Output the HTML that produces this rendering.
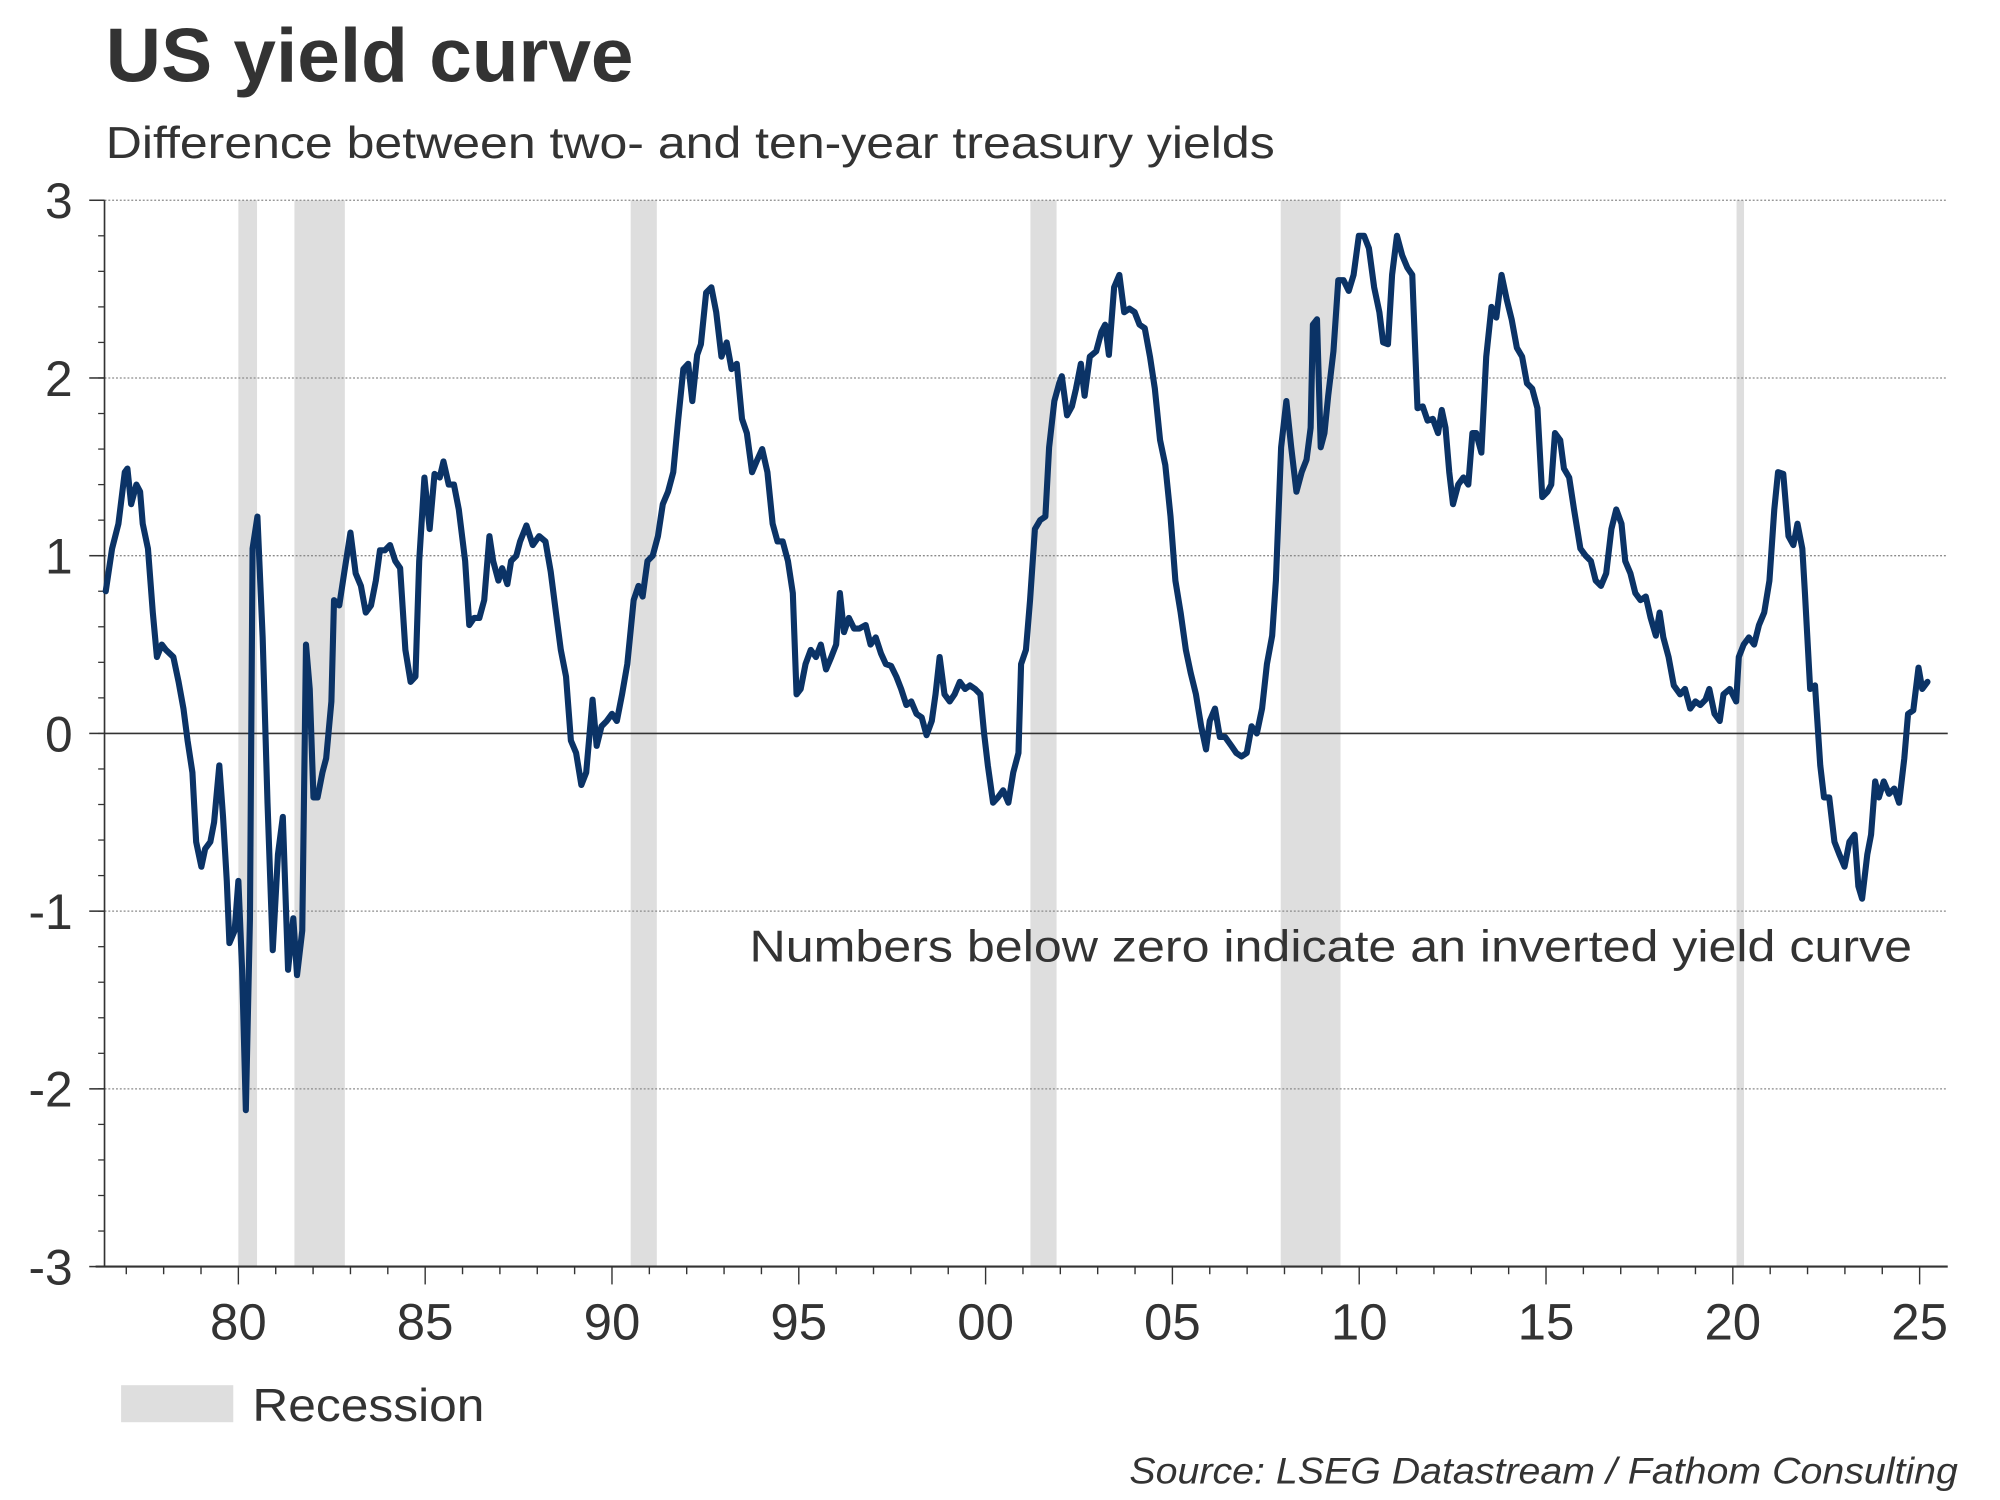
<!DOCTYPE html>
<html><head><meta charset="utf-8"><style>
html,body{margin:0;padding:0;background:#fff;}
svg{display:block;}
text{font-family:"Liberation Sans",Arial,sans-serif;fill:#333;}
</style></head><body>
<svg id="chart" width="2000" height="1500" viewBox="0 0 1569 1176" preserveAspectRatio="none" xmlns="http://www.w3.org/2000/svg">
<rect x="0" y="0" width="1569" height="1176" fill="#fff"/>
<text x="83" y="64" font-size="60" font-weight="bold" textLength="414" lengthAdjust="spacingAndGlyphs">US yield curve</text>
<text x="83" y="124" font-size="35" textLength="917" lengthAdjust="spacingAndGlyphs">Difference between two- and ten-year treasury yields</text>
<g id="recessions"></g>
<g id="grid"></g>
<g id="axes"></g>
<g id="series"></g>
<text x="1500" y="754" font-size="35" text-anchor="end" textLength="912" lengthAdjust="spacingAndGlyphs">Numbers below zero indicate an inverted yield curve</text>
<rect x="95" y="1086" width="88" height="29" fill="#dedede"/>
<text x="198" y="1114" font-size="36" textLength="182" lengthAdjust="spacingAndGlyphs">Recession</text>
<text x="1536" y="1163" font-size="29" font-style="italic" text-anchor="end" textLength="650" lengthAdjust="spacingAndGlyphs" fill="#3a4048">Source: LSEG Datastream / Fathom Consulting</text>
</svg>
<script>
const recessionStarts = [1980.0, 1981.5, 1990.5, 2001.2, 2007.9, 2020.1];
const recessionEnds = [1980.5, 1982.85, 1991.2, 2001.9, 2009.5, 2020.3];
const yTicks = [3, 2, 1, 0, -1, -2, -3];
const yTickLabels = ["3", "2", "1", "0", "-1", "-2", "-3"];
const xTickYears = [1980, 1985, 1990, 1995, 2000, 2005, 2010, 2015, 2020, 2025];
const xTickLabels = ["80", "85", "90", "95", "00", "05", "10", "15", "20", "25"];
const dates = [1976.45,1976.62,1976.79,1976.96,1977.03,1977.13,1977.27,1977.37,1977.44,1977.58,1977.71,1977.82,1977.95,1978.06,1978.26,1978.40,1978.53,1978.64,1978.77,1978.87,1979.01,1979.11,1979.25,1979.35,1979.49,1979.59,1979.69,1979.76,1979.90,1980.00,1980.10,1980.20,1980.31,1980.38,1980.51,1980.65,1980.78,1980.92,1981.06,1981.19,1981.33,1981.47,1981.57,1981.71,1981.81,1981.91,1982.01,1982.12,1982.25,1982.35,1982.49,1982.56,1982.70,1982.83,1983.00,1983.14,1983.28,1983.41,1983.55,1983.68,1983.79,1983.92,1984.06,1984.20,1984.33,1984.47,1984.61,1984.74,1984.84,1984.98,1985.12,1985.25,1985.39,1985.49,1985.63,1985.77,1985.90,1986.07,1986.18,1986.31,1986.45,1986.58,1986.72,1986.82,1986.96,1987.06,1987.20,1987.30,1987.44,1987.54,1987.71,1987.88,1988.05,1988.22,1988.36,1988.50,1988.63,1988.77,1988.90,1989.04,1989.18,1989.31,1989.48,1989.59,1989.72,1989.86,1990.00,1990.13,1990.27,1990.41,1990.58,1990.71,1990.82,1990.95,1991.09,1991.23,1991.36,1991.50,1991.64,1991.77,1991.91,1992.04,1992.15,1992.28,1992.38,1992.52,1992.66,1992.79,1992.93,1993.07,1993.20,1993.34,1993.48,1993.61,1993.75,1993.89,1994.02,1994.16,1994.30,1994.43,1994.57,1994.71,1994.84,1994.94,1995.05,1995.18,1995.32,1995.46,1995.59,1995.73,1995.87,1996.00,1996.10,1996.21,1996.34,1996.48,1996.62,1996.79,1996.92,1997.06,1997.20,1997.33,1997.47,1997.61,1997.74,1997.88,1998.01,1998.15,1998.29,1998.42,1998.56,1998.66,1998.77,1998.90,1999.04,1999.17,1999.31,1999.45,1999.58,1999.72,1999.86,1999.96,2000.06,2000.20,2000.33,2000.47,2000.61,2000.74,2000.88,2000.95,2001.08,2001.19,2001.32,2001.46,2001.60,2001.70,2001.84,2001.97,2002.04,2002.18,2002.31,2002.42,2002.55,2002.65,2002.79,2002.96,2003.10,2003.20,2003.30,2003.44,2003.58,2003.71,2003.85,2003.99,2004.12,2004.26,2004.40,2004.53,2004.67,2004.81,2004.95,2005.08,2005.22,2005.36,2005.49,2005.63,2005.77,2005.90,2006.00,2006.14,2006.27,2006.41,2006.58,2006.71,2006.85,2006.99,2007.12,2007.26,2007.40,2007.53,2007.67,2007.77,2007.91,2008.05,2008.18,2008.32,2008.46,2008.59,2008.70,2008.76,2008.87,2008.97,2009.07,2009.17,2009.31,2009.44,2009.58,2009.72,2009.85,2009.99,2010.13,2010.26,2010.40,2010.54,2010.64,2010.77,2010.88,2011.01,2011.15,2011.29,2011.42,2011.56,2011.70,2011.83,2011.97,2012.11,2012.21,2012.31,2012.41,2012.51,2012.65,2012.79,2012.92,2013.03,2013.13,2013.27,2013.40,2013.54,2013.67,2013.81,2013.95,2014.08,2014.22,2014.36,2014.49,2014.63,2014.77,2014.90,2015.04,2015.14,2015.24,2015.38,2015.48,2015.62,2015.75,2015.92,2016.06,2016.20,2016.33,2016.47,2016.61,2016.75,2016.88,2017.02,2017.12,2017.26,2017.39,2017.53,2017.67,2017.80,2017.94,2018.04,2018.14,2018.28,2018.42,2018.59,2018.72,2018.86,2019.00,2019.13,2019.27,2019.37,2019.51,2019.65,2019.75,2019.92,2020.09,2020.16,2020.29,2020.43,2020.57,2020.70,2020.84,2020.98,2021.11,2021.21,2021.35,2021.49,2021.62,2021.73,2021.86,2021.93,2022.07,2022.20,2022.34,2022.44,2022.58,2022.72,2022.85,2022.99,2023.12,2023.26,2023.36,2023.46,2023.60,2023.70,2023.81,2023.91,2024.04,2024.18,2024.32,2024.45,2024.59,2024.69,2024.83,2024.97,2025.07,2025.21];
const spreadValues = [0.80,1.04,1.18,1.47,1.49,1.29,1.40,1.36,1.18,1.04,0.68,0.43,0.50,0.47,0.43,0.29,0.14,-0.04,-0.22,-0.61,-0.75,-0.65,-0.61,-0.50,-0.18,-0.47,-0.83,-1.18,-1.11,-0.83,-1.33,-2.12,-1.04,1.04,1.22,0.54,-0.39,-1.22,-0.68,-0.47,-1.33,-1.04,-1.36,-1.11,0.50,0.25,-0.36,-0.36,-0.22,-0.14,0.18,0.75,0.72,0.90,1.13,0.90,0.83,0.68,0.72,0.86,1.03,1.03,1.06,0.97,0.93,0.47,0.29,0.32,0.97,1.44,1.15,1.46,1.44,1.53,1.40,1.40,1.26,0.97,0.61,0.65,0.65,0.75,1.11,0.97,0.86,0.93,0.84,0.97,1.00,1.08,1.17,1.06,1.11,1.08,0.91,0.68,0.47,0.32,-0.04,-0.11,-0.29,-0.22,0.19,-0.07,0.04,0.07,0.11,0.07,0.22,0.39,0.75,0.83,0.77,0.97,1.00,1.11,1.29,1.36,1.47,1.76,2.05,2.08,1.87,2.13,2.19,2.48,2.51,2.37,2.12,2.20,2.05,2.08,1.77,1.69,1.47,1.54,1.60,1.47,1.18,1.08,1.08,0.97,0.79,0.22,0.25,0.39,0.47,0.43,0.50,0.36,0.43,0.50,0.79,0.57,0.65,0.59,0.59,0.61,0.50,0.54,0.45,0.39,0.38,0.32,0.25,0.16,0.18,0.11,0.09,-0.01,0.07,0.22,0.43,0.22,0.18,0.22,0.29,0.25,0.27,0.25,0.22,0.00,-0.18,-0.39,-0.36,-0.32,-0.39,-0.22,-0.11,0.39,0.47,0.75,1.15,1.20,1.22,1.61,1.87,1.97,2.01,1.79,1.84,1.94,2.08,1.90,2.12,2.15,2.26,2.30,2.13,2.51,2.58,2.37,2.39,2.37,2.30,2.28,2.12,1.94,1.65,1.51,1.22,0.86,0.68,0.47,0.34,0.22,0.04,-0.09,0.07,0.14,-0.02,-0.02,-0.07,-0.11,-0.13,-0.11,0.04,0.00,0.14,0.39,0.55,0.86,1.61,1.87,1.61,1.36,1.47,1.54,1.72,2.30,2.33,1.61,1.69,1.90,2.15,2.55,2.55,2.49,2.58,2.80,2.80,2.73,2.51,2.37,2.20,2.19,2.58,2.80,2.69,2.62,2.58,1.83,1.84,1.76,1.77,1.69,1.82,1.72,1.47,1.29,1.40,1.44,1.40,1.69,1.69,1.58,2.12,2.40,2.34,2.58,2.44,2.33,2.17,2.12,1.97,1.94,1.83,1.33,1.36,1.40,1.69,1.65,1.49,1.44,1.26,1.04,1.00,0.97,0.86,0.83,0.90,1.15,1.26,1.18,0.97,0.90,0.79,0.75,0.77,0.65,0.55,0.68,0.54,0.43,0.27,0.22,0.25,0.14,0.18,0.16,0.19,0.25,0.11,0.07,0.22,0.25,0.18,0.43,0.50,0.54,0.50,0.61,0.68,0.86,1.26,1.47,1.46,1.11,1.06,1.18,1.04,0.79,0.25,0.27,-0.18,-0.36,-0.36,-0.61,-0.68,-0.75,-0.61,-0.57,-0.86,-0.93,-0.68,-0.57,-0.27,-0.36,-0.27,-0.34,-0.31,-0.39,-0.14,0.11,0.13,0.37,0.25,0.29];

const NS = "http://www.w3.org/2000/svg";
const plotLeft = 82, plotRight = 1528, plotTop = 157, plotBottom = 993;
const yMax = 3, yMin = -3;
const xRef = 1980, xRefPx = 187, pxPerYear = 29.31;
function xScale(yr) { return xRefPx + (yr - xRef) * pxPerYear; }
function yScale(v) { return plotTop + (yMax - v) / (yMax - yMin) * (plotBottom - plotTop); }
function mk(tag, attrs, parent) {
  const el = document.createElementNS(NS, tag);
  for (const k in attrs) el.setAttribute(k, attrs[k]);
  parent.appendChild(el);
  return el;
}
const gRec = document.getElementById('recessions');
const gGrid = document.getElementById('grid');
const gAx = document.getElementById('axes');
const gSer = document.getElementById('series');

recessionStarts.forEach((s, i) => {
  const r = mk('rect', {x: xScale(s), y: plotTop, width: xScale(recessionEnds[i]) - xScale(s), height: plotBottom - plotTop, fill: '#dedede'}, gRec);
  
  
});

yTicks.forEach((v, i) => {
  const y = yScale(v);
  if (v !== 0 && v !== yMin) {
    const l = mk('line', {x1: plotLeft, x2: plotRight, y1: y, y2: y, stroke: '#8a8a8a', 'stroke-width': 1, 'stroke-dasharray': '1.5,1.5'}, gGrid);
    
    
  }
  const t = mk('text', {x: 57, y: y + 14, 'font-size': 39, 'text-anchor': 'end'}, gAx);
  t.textContent = yTickLabels[i];
  
  
  const tk = mk('line', {x1: plotLeft - 12, x2: plotLeft, y1: y, y2: y, stroke: '#333', 'stroke-width': 1.2}, gAx);
  
  
});
for (let v = yMin; v <= yMax + 1e-9; v += 0.2) {
  const y = yScale(v);
  const tk = mk('line', {x1: plotLeft - 5, x2: plotLeft, y1: y, y2: y, stroke: '#333', 'stroke-width': 1}, gAx);
  
  
}
const zl = mk('line', {x1: plotLeft, x2: plotRight, y1: yScale(0), y2: yScale(0), stroke: '#333', 'stroke-width': 1.3}, gAx);


const ya = mk('line', {x1: plotLeft, x2: plotLeft, y1: plotTop, y2: plotBottom, stroke: '#333', 'stroke-width': 1.3}, gAx);


const xa = mk('line', {x1: 75, x2: plotRight, y1: plotBottom, y2: plotBottom, stroke: '#333', 'stroke-width': 1.6}, gAx);


for (let yr = 1977; yr <= 2025; yr++) {
  const x = xScale(yr);
  const major = yr % 5 === 0;
  const tk = mk('line', {x1: x, x2: x, y1: plotBottom, y2: plotBottom + (major ? 14 : 6), stroke: '#333', 'stroke-width': 1.1}, gAx);
  
  
}
xTickYears.forEach((yr, i) => {
  const t = mk('text', {x: xScale(yr), y: 1050, 'font-size': 40, 'text-anchor': 'middle'}, gAx);
  t.textContent = xTickLabels[i];
  
  
});

const n = Math.min(dates.length, spreadValues.length);
let d = '';
for (let i = 0; i < n; i++) {
  d += (i ? 'L' : 'M') + xScale(dates[i]).toFixed(2) + ',' + yScale(spreadValues[i]).toFixed(2);
}
const path = mk('path', {d: d, fill: 'none', stroke: '#0b3366', 'stroke-width': 4.8, 'stroke-linejoin': 'round', 'stroke-linecap': 'round'}, gSer);


</script>
</body></html>
